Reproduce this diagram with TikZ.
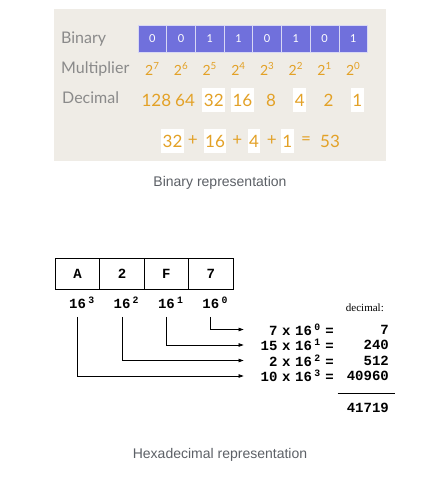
\documentclass[tikz,border=0pt]{standalone}
\usepackage{fontspec}
\usepackage{xcolor}
\usepackage{tikz}
\usetikzlibrary{arrows.meta}
\setmainfont{Liberation Sans}
\newfontfamily\panelfont{Lato}
\newfontfamily\hexfont{Liberation Mono}
\newfontfamily\notefont{Liberation Serif}
\definecolor{panelbg}{HTML}{EFECE6}
\definecolor{bitfill}{HTML}{7070DC}
\definecolor{bitline}{HTML}{D8D8F4}
\definecolor{labelgray}{HTML}{8A8A8A}
\definecolor{numorange}{HTML}{E3A126}
\definecolor{captiongray}{HTML}{5C6066}

\begin{document}
\begin{tikzpicture}[x=1pt,y=-1pt,
    bitbox/.style={draw=bitline, line width=0.8pt, fill=bitfill, minimum width=28.7pt, minimum height=27.7pt, inner sep=0pt, text=white, font=\panelfont\fontsize{11}{13}\selectfont},
    rowlabel/.style={anchor=west, text=labelgray, inner sep=0pt, font=\panelfont\fontsize{16}{18}\selectfont},
    mult/.style={text=numorange, inner sep=0pt, font=\panelfont\fontsize{14}{16}\selectfont},
    dec/.style={text=numorange, inner xsep=1.5pt, inner ysep=0pt, minimum height=24pt, font=\panelfont\fontsize{17}{19}\selectfont},
    hit/.style={dec, fill=white},
    caption/.style={text=captiongray, font=\fontsize{14}{16}\selectfont},
    hexbox/.style={draw, line width=0.8pt, minimum width=44.4pt, minimum height=31.7pt, inner sep=0pt, font=\hexfont\bfseries\fontsize{14}{16}\selectfont},
    power/.style={inner sep=0pt, font=\hexfont\bfseries\fontsize{14}{16}\selectfont},
    eqrow/.style={anchor=east, inner sep=0pt, text width=80pt, align=right, font=\hexfont\bfseries\fontsize{14}{16}\selectfont},
    hexarrow/.style={-{Triangle[length=5pt,width=3.5pt]}, line width=0.7pt}
  ]
  \useasboundingbox (0,0) rectangle (446,478);

  % binary panel
  \fill[panelbg] (54,9) rectangle (386,161);
  \node[rowlabel] (lbin) at (61,39) {Binary};
  \node[rowlabel] (lmul) at (61,69) {Multiplier};
  \node[rowlabel] (ldec) at (62,98) {Decimal};
  \foreach \b [count=\i from 0] in {0,0,1,1,0,1,0,1}
    \node[bitbox] (b\i) at (152.35+28.7*\i,38.8) {\b};
  \foreach \p [count=\i from 0] in {7,6,5,4,3,2,1,0}
    \node[mult] (m\i) at (152.35+28.7*\i,69) {2\textsuperscript{\p}};
  \foreach \d/\s [count=\i from 0] in {128/dec,64/dec,32/hit,16/hit,8/dec,4/hit,2/dec,1/hit}
    \node[\s] (d\i) at (156.35+28.7*\i,100.3) {\d};

  % sum
  \node[hit] (sum1) at (172.5,141) {32};
  \node[dec] (plus1) at (192.7,141) {+};
  \node[hit] (sum2) at (215,141) {16};
  \node[dec] (plus2) at (237.3,141) {+};
  \node[hit] (sum3) at (254,141) {4};
  \node[dec] (plus3) at (271.7,141) {+};
  \node[hit] (sum4) at (287.2,141) {1};
  \node[dec] (equal) at (306,141) {=};
  \node[dec] (total) at (330,141) {53};
  \node[caption] (capbin) at (220,183) {Binary representation};

  % hexadecimal
  \foreach \h/\n [count=\i from 0] in {A/3,2/2,F/1,7/0} {
    \node[hexbox] (h\n) at (77.6+44.4*\i,274) {\h};
    \node[power, anchor=west] (w\n) at (69+44.4*\i,302.7) {16\,\textsuperscript{\n}};
  }
  \node[font=\notefont\fontsize{11}{13}\selectfont, anchor=east, inner sep=0pt] (dlabel) at (384,308) {decimal:};
  \foreach \f/\v/\n [count=\i from 0] in {7/7/0,15/240/1,2/512/2,10/40960/3} {
    \node[eqrow] (r\n) at (334,329.5+15.5*\i) {\f{} x 16\,\textsuperscript{\n} =};
    \node[power, anchor=east] (v\n) at (389,329.5+15.5*\i) {\v};
    \draw[hexarrow, shorten <=8pt] (h\n.south |- w\n.south) |- ([xshift=-10pt]r\n.west);
  }
  \draw[line width=0.8pt] (337.7,393.3) -- (395,393.3);
  \node[power, anchor=east] (result) at (389,408) {41719};
  \node[caption] (caphex) at (220,455) {Hexadecimal representation};
\end{tikzpicture}
\end{document}
